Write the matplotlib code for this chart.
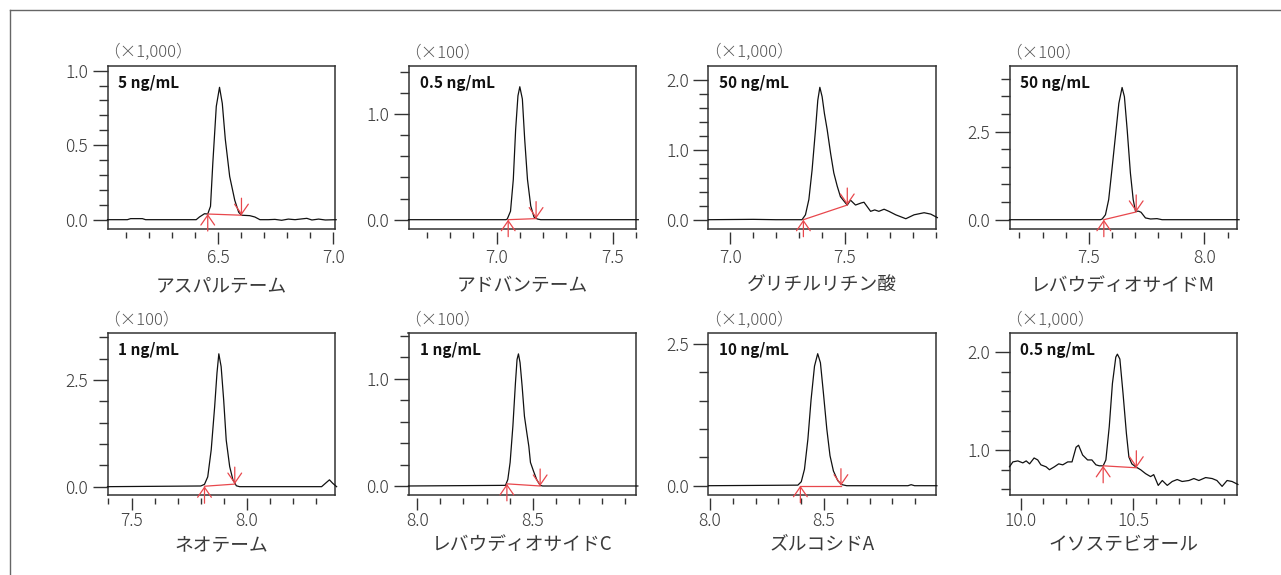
import matplotlib.pyplot as plt
from matplotlib.lines import Line2D

plt.rcParams['font.family'] = ['Noto Sans CJK JP', 'DejaVu Sans']
plt.rcParams['font.weight'] = 'light'

names = ['アスパルテーム', 'アドバンテーム', 'グリチルリチン酸', 'レバウディオサイドM',
         'ネオテーム', 'レバウディオサイドC', 'ズルコシドA', 'イソステビオール']
scales = ['（×1,000）', '（×100）', '（×1,000）', '（×100）',
          '（×100）', '（×100）', '（×1,000）', '（×1,000）']
concs = ['5 ng/mL', '0.5 ng/mL', '50 ng/mL', '50 ng/mL',
         '1 ng/mL', '1 ng/mL', '10 ng/mL', '0.5 ng/mL']

# retention time (min) and signal
t1 = [6.022, 6.108, 6.122, 6.173, 6.187, 6.406, 6.42, 6.442, 6.456, 6.468, 6.478, 6.493, 6.507,
      6.519, 6.532, 6.551, 6.573, 6.59, 6.602, 6.638, 6.66, 6.682, 6.718, 6.747, 6.776, 6.805,
      6.834, 6.856, 6.885, 6.907, 6.936, 6.965, 7.012]
y1 = [0.0, 0.0, 0.007, 0.007, 0.0, 0.0, 0.018, 0.04, 0.038, 0.09, 0.38, 0.76, 0.888,
      0.78, 0.54, 0.29, 0.13, 0.05, 0.03, 0.027, 0.018, 0.0, 0.0, 0.002, -0.004, 0.004,
      0.0, 0.004, 0.009, -0.002, 0.004, -0.002, 0.0]

t2 = [6.621, 7.04, 7.046, 7.06, 7.072, 7.082, 7.092, 7.10, 7.111, 7.121, 7.133, 7.147,
      7.161, 7.176, 7.19, 7.61]
y2 = [0.0, 0.0, 0.006, 0.08, 0.38, 0.85, 1.17, 1.256, 1.14, 0.76, 0.38, 0.13,
      0.025, 0.006, 0.0, 0.0]

t3 = [6.905, 7.1, 7.2, 7.314, 7.329, 7.344, 7.358, 7.373, 7.383, 7.392, 7.402, 7.412, 7.424,
      7.439, 7.453, 7.468, 7.482, 7.504, 7.512, 7.526, 7.548, 7.573, 7.585, 7.614, 7.632,
      7.65, 7.673, 7.694, 7.724, 7.768, 7.804, 7.848, 7.877, 7.906]
y3 = [0.0, 0.005, 0.0, 0.0, 0.07, 0.29, 0.71, 1.29, 1.71, 1.895, 1.76, 1.52, 1.29,
      0.95, 0.67, 0.48, 0.33, 0.24, 0.21, 0.28, 0.21, 0.24, 0.25, 0.12, 0.14,
      0.12, 0.15, 0.12, 0.07, 0.014, 0.07, 0.10, 0.08, 0.03]

t4 = [7.157, 7.55, 7.558, 7.572, 7.586, 7.60, 7.615, 7.63, 7.644, 7.654, 7.666, 7.68, 7.692,
      7.702, 7.716, 7.726, 7.745, 7.767, 7.795, 7.817, 8.15]
y4 = [0.0, 0.0, 0.02, 0.14, 0.57, 1.42, 2.36, 3.3, 3.75, 3.49, 2.55, 1.32, 0.57,
      0.24, 0.24, 0.21, 0.05, 0.02, 0.03, 0.0, 0.0]

t5 = [7.396, 7.80, 7.816, 7.83, 7.845, 7.86, 7.87, 7.878, 7.888, 7.899, 7.91, 7.925, 7.939,
      7.954, 7.968, 8.323, 8.342, 8.357, 8.371, 8.388]
y5 = [0.0, 0.016, 0.055, 0.23, 0.86, 1.875, 2.66, 3.11, 2.81, 2.03, 1.09, 0.47, 0.16,
      0.02, 0.0, 0.0, 0.09, 0.16, 0.08, 0.0]

t6 = [7.962, 8.382, 8.392, 8.402, 8.414, 8.425, 8.432, 8.438, 8.445, 8.454, 8.464, 8.474,
      8.483, 8.49, 8.503, 8.517, 8.532, 8.543, 8.955]
y6 = [0.0, 0.006, 0.06, 0.22, 0.56, 0.96, 1.18, 1.232, 1.15, 0.93, 0.65, 0.50,
      0.37, 0.22, 0.14, 0.06, 0.006, 0.0, 0.0]

t7 = [7.993, 8.385, 8.40, 8.414, 8.429, 8.443, 8.458, 8.472, 8.484, 8.497, 8.512, 8.526,
      8.541, 8.56, 8.577, 8.599, 8.868, 8.882, 8.897, 8.995]
y7 = [0.0, 0.01, 0.07, 0.29, 0.82, 1.52, 2.11, 2.33, 2.17, 1.64, 1.0, 0.53,
      0.26, 0.09, 0.02, 0.0, 0.0, 0.018, 0.0, 0.0]

t8 = [9.951, 9.966, 9.988, 10.01, 10.025, 10.04, 10.06, 10.076, 10.09, 10.113, 10.128, 10.15,
      10.169, 10.187, 10.209, 10.228, 10.246, 10.257, 10.275, 10.297, 10.316, 10.334, 10.349,
      10.366, 10.378, 10.393, 10.407, 10.422, 10.429, 10.44, 10.454, 10.469, 10.48, 10.493,
      10.51, 10.532, 10.554, 10.576, 10.59, 10.61, 10.628, 10.65, 10.672, 10.694, 10.716,
      10.746, 10.768, 10.79, 10.82, 10.849, 10.87, 10.893, 10.915, 10.937, 10.963]
y8 = [0.83, 0.88, 0.89, 0.87, 0.89, 0.86, 0.92, 0.90, 0.85, 0.83, 0.80, 0.83,
      0.86, 0.85, 0.88, 0.88, 1.03, 1.05, 0.95, 0.90, 0.90, 0.85, 0.84,
      0.84, 0.90, 1.24, 1.68, 1.95, 1.98, 1.93, 1.58, 1.17, 0.93, 0.86,
      0.83, 0.80, 0.76, 0.73, 0.75, 0.64, 0.69, 0.64, 0.68, 0.70, 0.68,
      0.69, 0.71, 0.69, 0.72, 0.71, 0.69, 0.63, 0.69, 0.68, 0.65]

times = [t1, t2, t3, t4, t5, t6, t7, t8]
signals = [y1, y2, y3, y4, y5, y6, y7, y8]

# integration baseline (start, end) points
base_start = [(6.456, 0.038), (7.05, 0.0), (7.32, 0.0), (7.565, 0.0),
              (7.816, 0.01), (8.388, 0.02), (8.396, 0.0), (10.366, 0.84)]
base_end = [(6.602, 0.03), (7.17, 0.01), (7.512, 0.21), (7.705, 0.22),
            (7.947, 0.06), (8.532, 0.0), (8.574, 0.0), (10.513, 0.82)]

xlims = [(6.022, 7.007), (6.621, 7.60), (6.905, 7.90), (7.157, 8.141),
         (7.396, 8.381), (7.962, 8.947), (7.993, 8.991), (9.951, 10.959)]
ylims = [(-0.0625, 1.031), (-0.088, 1.452), (-0.133, 2.2), (-0.264, 4.36),
         (-0.195, 3.59), (-0.084, 1.424), (-0.164, 2.69), (0.542, 2.193)]
x_major = [[6.5, 7.0], [7.0, 7.5], [7.0, 7.5], [7.5, 8.0],
           [7.5, 8.0], [8.0, 8.5], [8.0, 8.5], [10.0, 10.5]]
x_minor_first = [6.1, 6.7, 7.0, 7.2, 7.4, 8.0, 8.0, 10.0]
y_major = [[0.0, 0.5, 1.0], [0.0, 1.0], [0.0, 1.0, 2.0], [0.0, 2.5],
           [0.0, 2.5], [0.0, 1.0], [0.0, 2.5], [1.0, 2.0]]
y_minor_step = [0.1, 0.2, 0.2, 0.5, 0.5, 0.2, 0.5, 0.2]
y_minor_range = [(0.0, 1.0), (0.0, 1.4), (0.0, 2.0), (0.0, 4.0),
                 (0.0, 3.5), (0.0, 1.4), (0.0, 2.5), (0.6, 2.0)]

W, H = 1281, 575
fig = plt.figure(figsize=(W / 100, H / 100), dpi=100)

# outer frame (top and left edges visible)
fig.add_artist(Line2D([10 / W, 1.0], [1 - 10 / H, 1 - 10 / H], color='#666666', lw=1.0))
fig.add_artist(Line2D([10 / W, 10 / W], [1 - 10 / H, 0.0], color='#666666', lw=1.0))

col_left = [107.5, 408.5, 708.5, 1009.5]
box_w = 227.5
row_top = [66, 333.3]
row_bot = [229, 495]
red = '#e8474c'
dark = '#333333'
label_col = '#3a3a3a'

for i in range(8):
    r, c = divmod(i, 4)
    left, top, bot = col_left[c], row_top[r], row_bot[r]
    ax = fig.add_axes([left / W, 1 - bot / H, box_w / W, (bot - top) / H])
    ax.set_xlim(*xlims[i])
    ax.set_ylim(*ylims[i])
    for s in ax.spines.values():
        s.set_color(dark)
        s.set_linewidth(1.1)

    ax.plot(times[i], signals[i], color='#111111', lw=0.9, clip_on=False, zorder=3)
    (xa, ya), (xb, yb) = base_start[i], base_end[i]
    ax.plot([xa, xb], [ya, yb], color=red, lw=0.9, zorder=4)
    head = '->,head_length=0.55,head_width=0.38'
    ax.annotate('', xy=(xa, ya), xytext=(0, -17), textcoords='offset pixels',
                arrowprops=dict(arrowstyle=head, color=red, lw=0.9, shrinkA=0, shrinkB=0,
                                mutation_scale=13), annotation_clip=False, zorder=4)
    ax.annotate('', xy=(xb, yb), xytext=(0, 17), textcoords='offset pixels',
                arrowprops=dict(arrowstyle=head, color=red, lw=0.9, shrinkA=0, shrinkB=0,
                                mutation_scale=13), annotation_clip=False, zorder=4)

    # y axis
    ymin_t, ymax_t = y_minor_range[i]
    n = int(round((ymax_t - ymin_t) / y_minor_step[i]))
    ax.set_yticks(y_major[i])
    ax.set_yticklabels(['%.1f' % v for v in y_major[i]])
    ax.set_yticks([ymin_t + k * y_minor_step[i] for k in range(n + 1)], minor=True)
    ax.tick_params(axis='y', which='major', length=11, width=1.0, color=dark,
                   labelsize=12.5, labelcolor=label_col, pad=3)
    ax.tick_params(axis='y', which='minor', length=6.5, width=1.0, color=dark)
    ax.tick_params(axis='x', which='both', bottom=False, labelbottom=False)

    # detached x ticks
    sec = ax.secondary_xaxis(-2.5 / (bot - top))
    sec.spines['bottom'].set_visible(False)
    sec.set_xticks(x_major[i])
    sec.set_xticklabels(['%.1f' % v for v in x_major[i]])
    sec.set_xticks([x_minor_first[i] + 0.1 * k for k in range(10)], minor=True)
    sec.tick_params(axis='x', which='major', length=8.5, width=1.0, color=dark,
                    labelsize=12.5, labelcolor=label_col, pad=[4, 2][r])
    sec.tick_params(axis='x', which='minor', length=4.6, width=1.0, color=dark)
    sec.set_xlabel(names[i], fontsize=13.5, color=label_col, labelpad=[6, 3][r])

    ax.annotate(scales[i], xy=(0, 1), xycoords='axes fraction',
                xytext=(-4, 13), textcoords='offset pixels',
                ha='left', va='center', fontsize=12, color='#555555')
    ax.annotate(concs[i], xy=(0, 1), xycoords='axes fraction',
                xytext=(11, -17), textcoords='offset pixels',
                ha='left', va='center', fontsize=11, fontweight='bold', color='#111111')

fig.savefig('out.png', dpi=100)
